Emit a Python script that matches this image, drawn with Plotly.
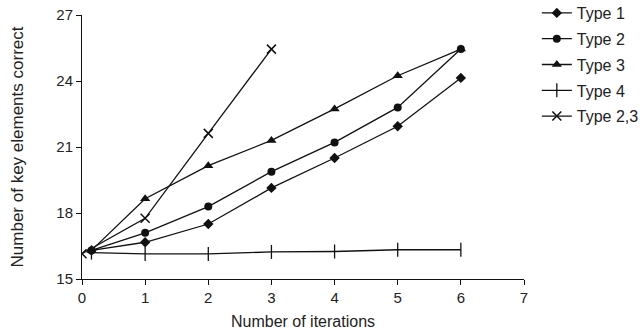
import plotly.graph_objects as go

x_main = [0.15, 1, 2, 3, 4, 5, 6]
type1 = [16.3, 16.67, 17.5, 19.14, 20.5, 21.94, 24.14]
type2 = [16.3, 17.1, 18.29, 19.88, 21.21, 22.8, 25.45]
type3 = [16.3, 18.65, 20.15, 21.3, 22.73, 24.24, 25.45]
type4 = [16.2, 16.14, 16.14, 16.23, 16.25, 16.33, 16.33]
x_23 = [0, 1, 2, 3]
type23 = [16.15, 17.76, 21.62, 25.45]

y_ticks = [15, 18, 21, 24, 27]
x_ticks = [0, 1, 2, 3, 4, 5, 6, 7]

fig = go.Figure()
black = "#111111"

def add(x, y, name, symbol, size, lw=0):
    fig.add_trace(go.Scatter(
        x=x, y=y, name=name, mode="lines+markers", legendgroup=name,
        line=dict(color=black, width=1.3),
        marker=dict(symbol=symbol, size=size, color=black,
                    line=dict(color=black, width=lw)),
    ))

add(x_main, type1, "Type 1", "diamond", 8)
add(x_main, type2, "Type 2", "circle", 8)
add(x_main, type3, "Type 3", "triangle-up", 9)
add(x_main, type4, "Type 4", "line-ns", 10, lw=1.3)
add(x_23, type23, "Type 2,3", "x-thin", 9, lw=1.5)

font = "Liberation Sans, Arial, sans-serif"
fig.update_layout(
    width=644, height=334,
    margin=dict(l=82, r=120, t=15, b=55, autoexpand=False),
    paper_bgcolor="white", plot_bgcolor="white",
    font=dict(family=font, size=15, color="#222"),
    showlegend=True,
    legend=dict(xref="paper", yref="paper", x=1.029, y=1.072,
                xanchor="left", yanchor="top",
                font=dict(size=16, color="#222"), tracegroupgap=2,
                itemwidth=30, bgcolor="rgba(0,0,0,0)"),
    xaxis=dict(range=[0, 7], tickvals=x_ticks, showgrid=False, zeroline=False,
               showline=True, linecolor=black, linewidth=1,
               ticks="outside", ticklen=5, tickcolor=black,
               tickfont=dict(size=15),
               title=dict(text="Number of iterations", font=dict(size=16), standoff=10)),
    yaxis=dict(range=[15, 27], tickvals=y_ticks, showgrid=False, zeroline=False,
               showline=True, linecolor=black, linewidth=1,
               ticks="outside", ticklen=5, tickcolor=black,
               tickfont=dict(size=15),
               title=dict(text="Number of key elements correct", font=dict(size=17), standoff=28)),
)

fig.write_html("out.html")
